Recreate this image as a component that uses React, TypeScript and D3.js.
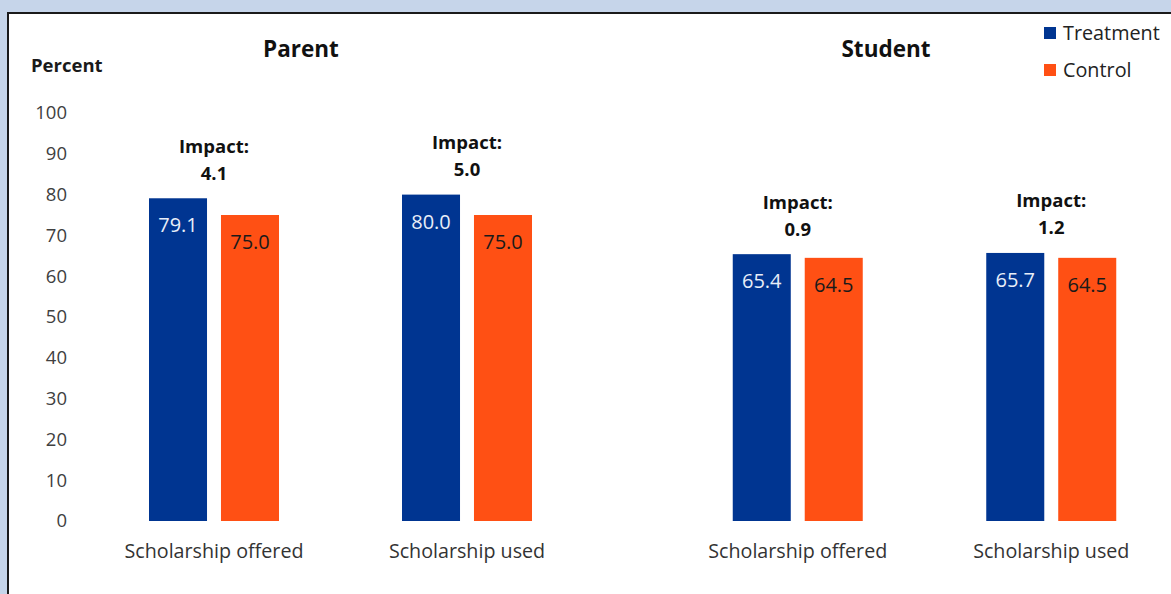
import React from "react";
import * as d3 from "d3";

const panels = ["Parent", "Student"];
const categories = ["Scholarship offered", "Scholarship used"];
const series = ["Treatment", "Control"];
const treatmentValues = [[79.1, 80.0], [65.4, 65.7]];
const controlValues = [[75.0, 75.0], [64.5, 64.5]];
const impactValues = [["4.1", "5.0"], ["0.9", "1.2"]];
const yTicks = [0, 10, 20, 30, 40, 50, 60, 70, 80, 90, 100];

const W = 1171;
const H = 594;
const COLORS = ["#003591", "#FF5014"];
const FONT = "'Open Sans', sans-serif";

export default function App() {
  const y = d3.scaleLinear().domain([0, 100]).range([521, 113]);
  const panelRanges: [number, number][] = [
    [87.5, 593.5],
    [671, 1178],
  ];
  const titleX = [301, 886];

  return (
    <div style={{ position: "absolute", left: 0, top: 0 }}>
      <svg width={W} height={H} style={{ display: "block" }}>
        <rect x={0} y={0} width={W} height={H} fill="#C6D5EA" />
        <rect x={8} y={13} width={W} height={H} fill="#FFFFFF" stroke="#1a1a1a" strokeWidth={2} />
        <text x={31} y={72} fontFamily={FONT} fontWeight="bold" fontSize={18.5} fill="#1a1a1a">Percent</text>
        {yTicks.map((t) => (
          <text key={t} x={67} y={y(t)} dy="0.35em" textAnchor="end" fontFamily={FONT} fontSize={18.5} fill="#404040">
            {t}
          </text>
        ))}
        {panels.map((p, pi) => {
          const x0 = d3.scaleBand<string>().domain(categories).range(panelRanges[pi]).padding(0);
          const bw = x0.bandwidth();
          const x1 = d3.scaleBand<string>().domain(series).range([bw / 2 - 65, bw / 2 + 65]).paddingInner(0.194).paddingOuter(0);
          return (
            <g key={p}>
              <text x={titleX[pi]} y={57} textAnchor="middle" fontFamily={FONT} fontWeight="bold" fontSize={22.5} fill="#111">
                {p}
              </text>
              {categories.map((c, ci) => {
                const gx = x0(c)!;
                const vals = [treatmentValues[pi][ci], controlValues[pi][ci]];
                const cx = gx + bw / 2;
                const topT = y(treatmentValues[pi][ci]);
                return (
                  <g key={c}>
                    {series.map((s, si) => {
                      const bx = gx + x1(s)!;
                      const v = vals[si];
                      return (
                        <g key={s}>
                          <rect x={bx} y={y(v)} width={x1.bandwidth()} height={y(0) - y(v)} fill={COLORS[si]} />
                          <text
                            x={bx + x1.bandwidth() / 2}
                            y={y(v) + 27}
                            dy="0.35em"
                            textAnchor="middle"
                            fontFamily={FONT}
                            fontSize={20}
                            fill={si === 0 ? "#E8EEF8" : "#1a1a1a"}
                          >
                            {v.toFixed(1)}
                          </text>
                        </g>
                      );
                    })}
                    <text x={cx} y={topT - 52} dy="0.35em" textAnchor="middle" fontFamily={FONT} fontWeight="bold" fontSize={18.5} fill="#111">
                      Impact:
                    </text>
                    <text x={cx} y={topT - 25} dy="0.35em" textAnchor="middle" fontFamily={FONT} fontWeight="bold" fontSize={18.5} fill="#111">
                      {impactValues[pi][ci]}
                    </text>
                    <text x={cx} y={551} dy="0.35em" textAnchor="middle" fontFamily={FONT} fontSize={19.7} fill="#333">
                      {c}
                    </text>
                  </g>
                );
              })}
            </g>
          );
        })}
        {series.map((s, si) => (
          <g key={s}>
            <rect x={1044} y={27 + si * 37} width={12} height={12} fill={COLORS[si]} />
            <text x={1063} y={33 + si * 37} dy="0.35em" fontFamily={FONT} fontSize={19.8} fill="#222">
              {s}
            </text>
          </g>
        ))}
      </svg>
    </div>
  );
}
